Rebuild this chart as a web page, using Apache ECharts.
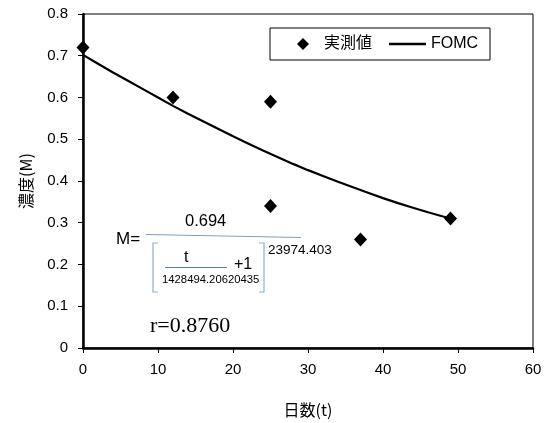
<!DOCTYPE html>
<html>
<head>
<meta charset="utf-8">
<script src="https://cdn.jsdelivr.net/npm/echarts@6/dist/echarts.min.js"></script>
<style>
  body { margin: 0; background: #fff; }
  #chart { width: 549px; height: 423px; }
</style>
</head>
<body>
<div id="chart"></div>
<script>
// 実測値
var measuredDays = [0, 12, 25, 25, 37, 49];
var measuredConc = [0.72, 0.60, 0.59, 0.34, 0.26, 0.31];

// FOMC curve
var fomcDays = [0, 2, 4, 6, 8, 10, 12, 14, 16, 18, 20, 22, 24, 26, 28, 30, 32, 34, 36, 38, 40, 42, 44, 46, 48, 49];
var fomcConc = [0.702, 0.681, 0.660, 0.640, 0.620, 0.600, 0.580, 0.561, 0.543, 0.525, 0.507, 0.490, 0.473, 0.457, 0.441, 0.426, 0.412, 0.398, 0.385, 0.372, 0.359, 0.347, 0.336, 0.325, 0.315, 0.311];

var xTicks = [0, 10, 20, 30, 40, 50, 60];
var yTicks = [0, 0.1, 0.2, 0.3, 0.4, 0.5, 0.6, 0.7, 0.8];

var chart = echarts.init(document.getElementById("chart"));

var labelFont = "Liberation Sans, Arial, sans-serif";
var cjkFont = "Noto Sans CJK JP, sans-serif";

var option = {
  animation: false,
  grid: {
    left: 83, right: 16, top: 14, bottom: 73,
    show: true, borderColor: "#000", borderWidth: 1
  },
  xAxis: {
    type: "value",
    min: xTicks[0],
    max: xTicks[xTicks.length - 1],
    interval: 10,
    name: "日数(t)",
    nameLocation: "middle",
    nameGap: 54,
    nameTextStyle: { fontFamily: cjkFont, fontSize: 16, color: "#000" },
    axisLine: { lineStyle: { color: "#000", width: 2.5 } },
    axisTick: { inside: false, length: 5, lineStyle: { color: "#000", width: 1 } },
    axisLabel: { fontFamily: labelFont, fontSize: 15, color: "#000", margin: 14 },
    splitLine: { show: false }
  },
  yAxis: {
    type: "value",
    min: yTicks[0],
    max: yTicks[yTicks.length - 1],
    interval: 0.1,
    name: "濃度(M)",
    nameLocation: "middle",
    nameGap: 49,
    nameRotate: 90,
    nameTextStyle: { fontFamily: cjkFont, fontSize: 16, color: "#000" },
    axisLine: { lineStyle: { color: "#000", width: 2.5 } },
    axisTick: { inside: false, length: 5, lineStyle: { color: "#000", width: 1 } },
    axisLabel: {
      fontFamily: labelFont, fontSize: 15, color: "#000", margin: 15,
      formatter: function (v) { return v === 0 ? "0" : v.toFixed(1); }
    },
    splitLine: { show: false }
  },
  series: [
    {
      name: "FOMC",
      type: "line",
      data: fomcDays.map(function (d, i) { return [d, fomcConc[i]]; }),
      showSymbol: false,
      smooth: false,
      lineStyle: { color: "#000", width: 2.2 },
      z: 2
    },
    {
      name: "実測値",
      type: "scatter",
      data: measuredDays.map(function (d, i) { return [d, measuredConc[i]]; }),
      symbol: "diamond",
      symbolSize: [13, 14],
      itemStyle: { color: "#000", opacity: 1 },
      z: 3
    }
  ],
  graphic: [
    // legend box
    { type: "rect", shape: { x: 270, y: 28, width: 220, height: 32 },
      style: { fill: "#fff", stroke: "#000", lineWidth: 1 }, z: 10 },
    { type: "polygon", shape: { points: [[303, 38], [309, 44], [303, 50], [297, 44]] },
      style: { fill: "#000" }, z: 11 },
    { type: "text", x: 324, y: 34,
      style: { text: "実測値", font: "16px " + cjkFont, fill: "#000" }, z: 11 },
    { type: "line", shape: { x1: 389, y1: 44, x2: 426, y2: 44 },
      style: { stroke: "#000", lineWidth: 2.5 }, z: 11 },
    { type: "text", x: 431, y: 36,
      style: { text: "FOMC", font: "16px " + labelFont, fill: "#000" }, z: 11 },

    // equation
    { type: "text", x: 116, y: 231,
      style: { text: "M=", font: "17px " + labelFont, fill: "#000" }, z: 10 },
    { type: "text", x: 185, y: 213,
      style: { text: "0.694", font: "16.5px " + labelFont, fill: "#000" }, z: 10 },
    { type: "line", shape: { x1: 146, y1: 234.5, x2: 301, y2: 237.5 },
      style: { stroke: "#7f9fbf", lineWidth: 1 }, z: 10 },
    { type: "polyline", shape: { points: [[158, 243], [153, 243], [153, 292], [158, 292]] },
      style: { stroke: "#8eb0d2", lineWidth: 1.2, fill: null }, z: 10 },
    { type: "polyline", shape: { points: [[259, 243], [264, 243], [264, 292], [259, 292]] },
      style: { stroke: "#8eb0d2", lineWidth: 1.2, fill: null }, z: 10 },
    { type: "text", x: 184, y: 250,
      style: { text: "t", font: "16px " + labelFont, fill: "#000" }, z: 10 },
    { type: "line", shape: { x1: 165, y1: 267.5, x2: 227, y2: 267.5 },
      style: { stroke: "#5c7fa6", lineWidth: 1 }, z: 10 },
    { type: "text", x: 162, y: 274,
      style: { text: "1428494.20620435", font: "11.3px " + labelFont, fill: "#000" }, z: 10 },
    { type: "text", x: 234, y: 257,
      style: { text: "+1", font: "16px " + labelFont, fill: "#000" }, z: 10 },
    { type: "text", x: 268, y: 243,
      style: { text: "23974.403", font: "13.5px " + labelFont, fill: "#000" }, z: 10 },

    // correlation
    { type: "text", x: 150, y: 315,
      style: { text: "r=0.8760", font: "22px Liberation Serif, Times New Roman, serif", fill: "#000" }, z: 10 }
  ]
};

chart.setOption(option);
</script>
</body>
</html>
